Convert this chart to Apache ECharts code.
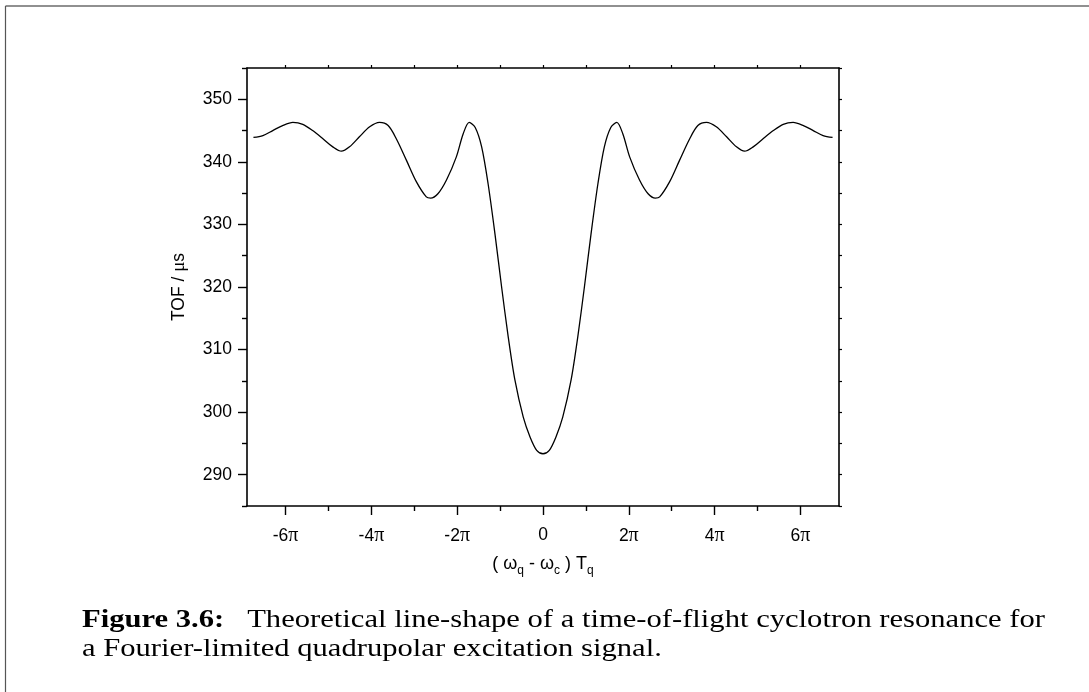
<!DOCTYPE html>
<html>
<head>
<meta charset="utf-8">
<script src="https://cdn.jsdelivr.net/npm/echarts@6/dist/echarts.min.js"></script>
<style>
html,body{margin:0;padding:0;background:#fff;}
#c{width:1089px;height:692px;}
</style>
</head>
<body>
<div id="c"></div>
<script>
// x in units of pi: (omega_q - omega_c) T_q / pi
var xValues = [-6.75,-6.53,-6.30,-6.07,-5.83,-5.60,-5.37,-5.13,-4.90,-4.70,-4.51,-4.28,-4.04,-3.81,-3.61,-3.42,-3.18,-2.95,-2.72,-2.62,-2.45,-2.25,-2.02,-1.86,-1.72,-1.58,-1.43,-1.28,-1.12,-0.965,-0.81,-0.654,-0.46,-0.30,-0.147,0,
  0.147,0.30,0.46,0.654,0.81,0.965,1.12,1.28,1.43,1.58,1.72,1.86,2.02,2.25,2.45,2.62,2.72,2.95,3.18,3.42,3.61,3.81,4.04,4.28,4.51,4.70,4.90,5.13,5.37,5.60,5.83,6.07,6.30,6.53,6.75];
var tofValues = [343.9,344.2,345.0,345.8,346.3,346.0,345.0,343.7,342.4,341.7,342.4,344.0,345.6,346.3,345.8,343.7,340.2,336.8,334.4,334.2,334.9,337.1,340.8,344.5,346.3,345.5,342.4,336.5,328.5,320.0,312.0,305.1,299.2,296.0,293.9,293.35,
  293.9,296.0,299.2,305.1,312.0,320.0,328.5,336.5,342.4,345.5,346.3,344.5,340.8,337.1,334.9,334.2,334.4,336.8,340.2,343.7,345.8,346.3,345.6,344.0,342.4,341.7,342.4,343.7,345.0,346.0,346.3,345.8,345.0,344.2,343.9];
var xMajorTicks = [-6,-4,-2,0,2,4,6];
var xMinorTicks = [-5,-3,-1,1,3,5];
var xAllTicks = [-6,-5,-4,-3,-2,-1,0,1,2,3,4,5,6];
var yMajorTicks = [290,300,310,320,330,340,350];
var yMinorTicks = [285,295,305,315,325,335,345,355];
var yAllTicks = [285,290,295,300,305,310,315,320,325,330,335,340,345,350,355];
var xRange = [-6.9, 6.9];
var yRange = [285, 355];
var yAxisTitle = 'TOF / {g|μ}s';
var xAxisTitle = '( ω{s|q} - ω{s|c} ) T{s|q}';
var captionBold = 'Figure 3.6:';
var caption1Rest = '   Theoretical line-shape of a time-of-flight cyclotron resonance for';
var caption2 = 'a Fourier-limited quadrupolar excitation signal.';

var data = xValues.map(function(x,i){return [x, tofValues[i]];});
var SANS = '"Liberation Sans", Arial, sans-serif';
var SERIF = '"Liberation Serif", "Times New Roman", serif';
var CAP_SIZE = 26;
// measure caption width to stretch it to the reference text block width
var mc = document.createElement('canvas').getContext('2d');
mc.font = 'bold ' + CAP_SIZE + 'px ' + SERIF;
var wB = mc.measureText(captionBold).width;
mc.font = CAP_SIZE + 'px ' + SERIF;
var wR = mc.measureText(caption1Rest).width;
var capScale = 963 / (wB + wR);

var chart = echarts.init(document.getElementById('c'), null, {renderer:'canvas'});
var lineCol = '#000';
function hiddenAxisBase(pos, range){
  return {type:'value', position:pos, min:range[0], max:range[1],
    splitLine:{show:false}, axisLabel:{show:false}, axisLine:{show:false, onZero:false}};
}
var option = {
  backgroundColor:'#fff',
  animation:false,
  grid:{left:247, right:250, top:68, bottom:186, containLabel:false},
  xAxis:[
    {type:'value', position:'bottom', min:xRange[0], max:xRange[1],
      splitLine:{show:false},
      axisLine:{show:true, onZero:false, lineStyle:{color:lineCol, width:1.6}},
      axisTick:{show:true, customValues:xMajorTicks, length:9, lineStyle:{color:lineCol, width:1.4}},
      axisLabel:{show:true, customValues:xMajorTicks, margin:20,
        formatter:function(v){ return v===0 ? '{a|0}' : '{a|'+v+'}{p|π}'; },
        rich:{a:{fontFamily:SANS, fontSize:17.5, color:'#000'}, p:{fontFamily:SERIF, fontSize:20, color:'#000'}}},
      name:xAxisTitle, nameLocation:'middle', nameGap:46, nameMoveOverlap:false,
      nameTextStyle:{fontFamily:SANS, fontSize:18, color:'#000',
        rich:{s:{fontFamily:SANS, fontSize:12, color:'#000', padding:[13,0,0,0]}}}
    },
    Object.assign(hiddenAxisBase('bottom', xRange), {
      axisTick:{show:true, customValues:xMinorTicks, length:5, lineStyle:{color:lineCol, width:1.4}}}),
    Object.assign(hiddenAxisBase('top', xRange), {
      axisLine:{show:true, onZero:false, lineStyle:{color:lineCol, width:1.6}},
      axisTick:{show:true, customValues:xAllTicks, length:3, lineStyle:{color:lineCol, width:1.2}}})
  ],
  yAxis:[
    {type:'value', position:'left', min:yRange[0], max:yRange[1],
      splitLine:{show:false},
      axisLine:{show:true, onZero:false, lineStyle:{color:lineCol, width:1.6}},
      axisTick:{show:true, customValues:yMajorTicks, length:9, lineStyle:{color:lineCol, width:1.4}},
      axisLabel:{show:true, customValues:yMajorTicks, margin:15, fontFamily:SANS, fontSize:17.5, color:'#000'},
      name:yAxisTitle, nameLocation:'middle', nameGap:58, nameMoveOverlap:false,
      nameTextStyle:{fontFamily:SANS, fontSize:17.5, color:'#000',
        rich:{g:{fontFamily:SERIF, fontSize:19, color:'#000'}}}
    },
    Object.assign(hiddenAxisBase('left', yRange), {
      axisTick:{show:true, customValues:yMinorTicks, length:5, lineStyle:{color:lineCol, width:1.4}}}),
    Object.assign(hiddenAxisBase('right', yRange), {
      axisLine:{show:true, onZero:false, lineStyle:{color:lineCol, width:1.6}},
      axisTick:{show:true, customValues:yAllTicks, length:3, lineStyle:{color:lineCol, width:1.2}}})
  ],
  series:[{
    type:'line', xAxisIndex:0, yAxisIndex:0, data:data, smooth:0.3,
    showSymbol:false, symbol:'none',
    lineStyle:{color:'#000', width:1.3}
  }],
  graphic:[
    {type:'line', shape:{x1:5.5, y1:6, x2:1089, y2:6}, style:{stroke:'#222', lineWidth:1.2}, silent:true},
    {type:'line', shape:{x1:5.5, y1:6, x2:5.5, y2:692}, style:{stroke:'#555', lineWidth:1.2}, silent:true},
    {type:'text', x:82, y:607, scaleX:capScale, style:{text:'{b|'+captionBold+'}'+caption1Rest,
      font:CAP_SIZE+'px '+SERIF, fill:'#000', verticalAlign:'top',
      rich:{b:{fontFamily:SERIF, fontWeight:'bold', fontSize:CAP_SIZE, fill:'#000'}}}},
    {type:'text', x:82, y:636, scaleX:capScale, style:{text:caption2, font:CAP_SIZE+'px '+SERIF, fill:'#000', verticalAlign:'top'}}
  ]
};
chart.setOption(option);
</script>
</body>
</html>
